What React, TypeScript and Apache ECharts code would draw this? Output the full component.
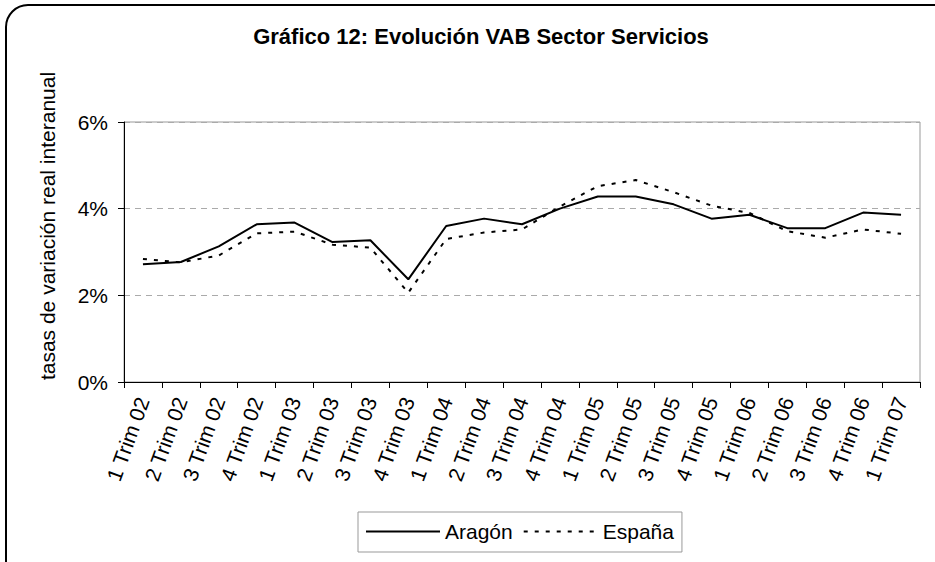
import React, { useEffect, useRef } from "react";
import * as echarts from "echarts";

const categories = [
  "1 Trim 02", "2 Trim 02", "3 Trim 02", "4 Trim 02",
  "1 Trim 03", "2 Trim 03", "3 Trim 03", "4 Trim 03",
  "1 Trim 04", "2 Trim 04", "3 Trim 04", "4 Trim 04",
  "1 Trim 05", "2 Trim 05", "3 Trim 05", "4 Trim 05",
  "1 Trim 06", "2 Trim 06", "3 Trim 06", "4 Trim 06",
  "1 Trim 07",
];

const aragon = [
  2.72, 2.77, 3.13, 3.64, 3.68, 3.23, 3.27, 2.37, 3.6, 3.77, 3.64,
  4.0, 4.28, 4.28, 4.1, 3.77, 3.86, 3.55, 3.55, 3.91, 3.86,
];

const espana = [
  2.84, 2.76, 2.92, 3.43, 3.47, 3.17, 3.1, 2.06, 3.3, 3.45, 3.52,
  4.05, 4.52, 4.66, 4.38, 4.07, 3.9, 3.48, 3.33, 3.52, 3.42,
];

const yTicks = [0, 2, 4, 6];

const FONT = "'Liberation Sans', Arial, sans-serif";

export default function App() {
  const ref = useRef<HTMLDivElement>(null);

  useEffect(() => {
    document.body.style.margin = "0";
    if (!ref.current) return;
    const chart = echarts.init(ref.current, null, { renderer: "svg" });
    chart.setOption({
      animation: false,
      backgroundColor: "#ffffff",
      textStyle: { fontFamily: FONT, color: "#000" },
      title: {
        text: "Gráfico 12: Evolución VAB Sector Servicios",
        left: 476,
        textAlign: "center",
        top: 20,
        textStyle: { fontFamily: FONT, fontSize: 22, fontWeight: "bold", color: "#000" },
      },
      graphic: [
        {
          type: "rect",
          shape: { x: 6, y: 5, width: 950, height: 600, r: 22 },
          style: { fill: "none", stroke: "#000", lineWidth: 2 },
          silent: true,
          z: 100,
        },
      ],
      legend: {
        left: 358,
        top: 512,
        orient: "horizontal",
        selectedMode: false,
        itemWidth: 74,
        itemHeight: 14,
        itemGap: 10,
        padding: [9, 8, 10, 7],
        borderColor: "#999",
        borderWidth: 1,
        itemStyle: { opacity: 0 },
        textStyle: { fontFamily: FONT, fontSize: 21, color: "#000" },
        data: ["Aragón", "España"],
      },
      grid: {
        left: 124,
        right: 15,
        top: 122,
        bottom: 180,
        show: true,
        borderColor: "#999",
        borderWidth: 1,
        backgroundColor: "transparent",
      },
      xAxis: {
        type: "category",
        data: categories,
        boundaryGap: true,
        axisLine: { lineStyle: { color: "#000", width: 1 } },
        axisTick: { show: true, interval: 0, length: 6, lineStyle: { color: "#000" } },
        axisLabel: {
          interval: 0,
          rotate: 70,
          margin: 16,
          fontFamily: FONT,
          fontSize: 21,
          color: "#000",
        },
      },
      yAxis: {
        type: "value",
        min: 0,
        max: 6,
        interval: 2,
        name: "tasas de variación real interanual",
        nameLocation: "middle",
        nameGap: 66,
        nameTextStyle: { fontFamily: FONT, fontSize: 21, color: "#000", padding: [0, 0, 0, 52] },
        axisLine: { show: true, lineStyle: { color: "#000", width: 1 } },
        axisTick: { show: true, length: 6, lineStyle: { color: "#000" } },
        axisLabel: {
          margin: 16,
          fontFamily: FONT,
          fontSize: 21,
          color: "#000",
          formatter: (v: number) => (yTicks.includes(v) ? `${v}%` : ""),
        },
        splitLine: { show: true, lineStyle: { color: "#aaa", type: [6, 5], width: 1 } },
      },
      series: [
        {
          name: "Aragón",
          type: "line",
          data: aragon,
          symbol: "none",
          lineStyle: { color: "#000", width: 2, type: "solid" },
          itemStyle: { color: "#000" },
          z: 3,
        },
        {
          name: "España",
          type: "line",
          data: espana,
          symbol: "none",
          lineStyle: { color: "#000", width: 2, type: [4, 7] },
          itemStyle: { color: "#000" },
          z: 2,
        },
      ],
    });
    return () => chart.dispose();
  }, []);

  return <div ref={ref} style={{ width: 935, height: 562 }} />;
}
